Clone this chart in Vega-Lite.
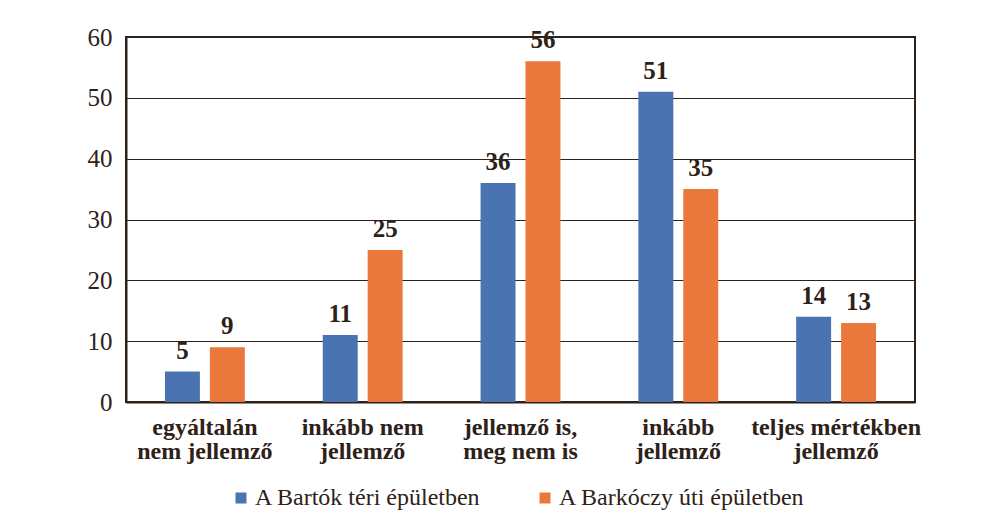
{
  "$schema": "https://vega.github.io/schema/vega-lite/v6.json",
  "width": 789,
  "height": 365,
  "autosize": {"type": "none"},
  "padding": {"left": 126, "top": 37, "right": 87, "bottom": 113},
  "background": "white",
  "data": {
    "values": [
      {"cat": "egyáltalán|nem jellemző", "series": "A Bartók téri épületben", "value": 5},
      {"cat": "egyáltalán|nem jellemző", "series": "A Barkóczy úti épületben", "value": 9},
      {"cat": "inkább nem|jellemző", "series": "A Bartók téri épületben", "value": 11},
      {"cat": "inkább nem|jellemző", "series": "A Barkóczy úti épületben", "value": 25},
      {"cat": "jellemző is,|meg nem is", "series": "A Bartók téri épületben", "value": 36},
      {"cat": "jellemző is,|meg nem is", "series": "A Barkóczy úti épületben", "value": 56},
      {"cat": "inkább|jellemző", "series": "A Bartók téri épületben", "value": 51},
      {"cat": "inkább|jellemző", "series": "A Barkóczy úti épületben", "value": 35},
      {"cat": "teljes mértékben|jellemző", "series": "A Bartók téri épületben", "value": 14},
      {"cat": "teljes mértékben|jellemző", "series": "A Barkóczy úti épületben", "value": 13}
    ]
  },
  "encoding": {
    "x": {
      "field": "cat",
      "type": "nominal",
      "sort": null,
      "scale": {"paddingInner": 0, "paddingOuter": 0},
      "axis": {
        "title": null,
        "labelAngle": 0,
        "labelExpr": "split(datum.label, '|')",
        "labelFont": "Times New Roman, Liberation Serif, serif",
        "labelFontWeight": "bold",
        "labelFontSize": 24,
        "labelLineHeight": 24,
        "labelColor": "#2d2118",
        "labelPadding": 13,
        "labelLimit": 300,
        "ticks": false,
        "domainColor": "#2d2118",
        "domainWidth": 2,
        "labelBaseline": "top"
      }
    },
    "xOffset": {
      "field": "series",
      "type": "nominal",
      "sort": ["A Bartók téri épületben", "A Barkóczy úti épületben"],
      "scale": {"paddingInner": 0.222, "paddingOuter": 0.867}
    },
    "y": {
      "field": "value",
      "type": "quantitative",
      "scale": {"domain": [0, 60], "nice": false},
      "axis": {
        "title": null,
        "values": [0, 10, 20, 30, 40, 50, 60],
        "labelFont": "Times New Roman, Liberation Serif, serif",
        "labelFontSize": 25,
        "labelColor": "#2d2118",
        "labelPadding": 14,
        "ticks": false,
        "domainColor": "#2d2118",
        "domainWidth": 2,
        "gridColor": "#2d2118",
        "gridWidth": 1,
        "gridOpacity": 1
      }
    }
  },
  "layer": [
    {
      "mark": {"type": "bar"},
      "encoding": {
        "color": {
          "field": "series",
          "type": "nominal",
          "sort": ["A Bartók téri épületben", "A Barkóczy úti épületben"],
          "scale": {"range": ["#4A73B1", "#EA783D"]},
          "legend": {
            "title": null,
            "orient": "none",
            "legendX": 103,
            "legendY": 449,
            "direction": "horizontal",
            "symbolType": "square",
            "symbolSize": 121,
            "symbolStrokeWidth": 0,
            "symbolOpacity": 1,
            "labelFont": "Times New Roman, Liberation Serif, serif",
            "labelFontSize": 24,
            "labelColor": "#2d2118",
            "labelLimit": 400,
            "labelOffset": 2,
            "columnPadding": 52
          }
        }
      }
    },
    {
      "mark": {
        "type": "text",
        "baseline": "bottom",
        "dy": -8,
        "font": "Times New Roman, Liberation Serif, serif",
        "fontWeight": "bold",
        "fontSize": 25,
        "color": "#2d2118"
      },
      "encoding": {
        "text": {"field": "value", "type": "quantitative"}
      }
    }
  ],
  "config": {
    "font": "Times New Roman, Liberation Serif, serif",
    "view": {"stroke": "#2d2118", "strokeWidth": 2}
  }
}
